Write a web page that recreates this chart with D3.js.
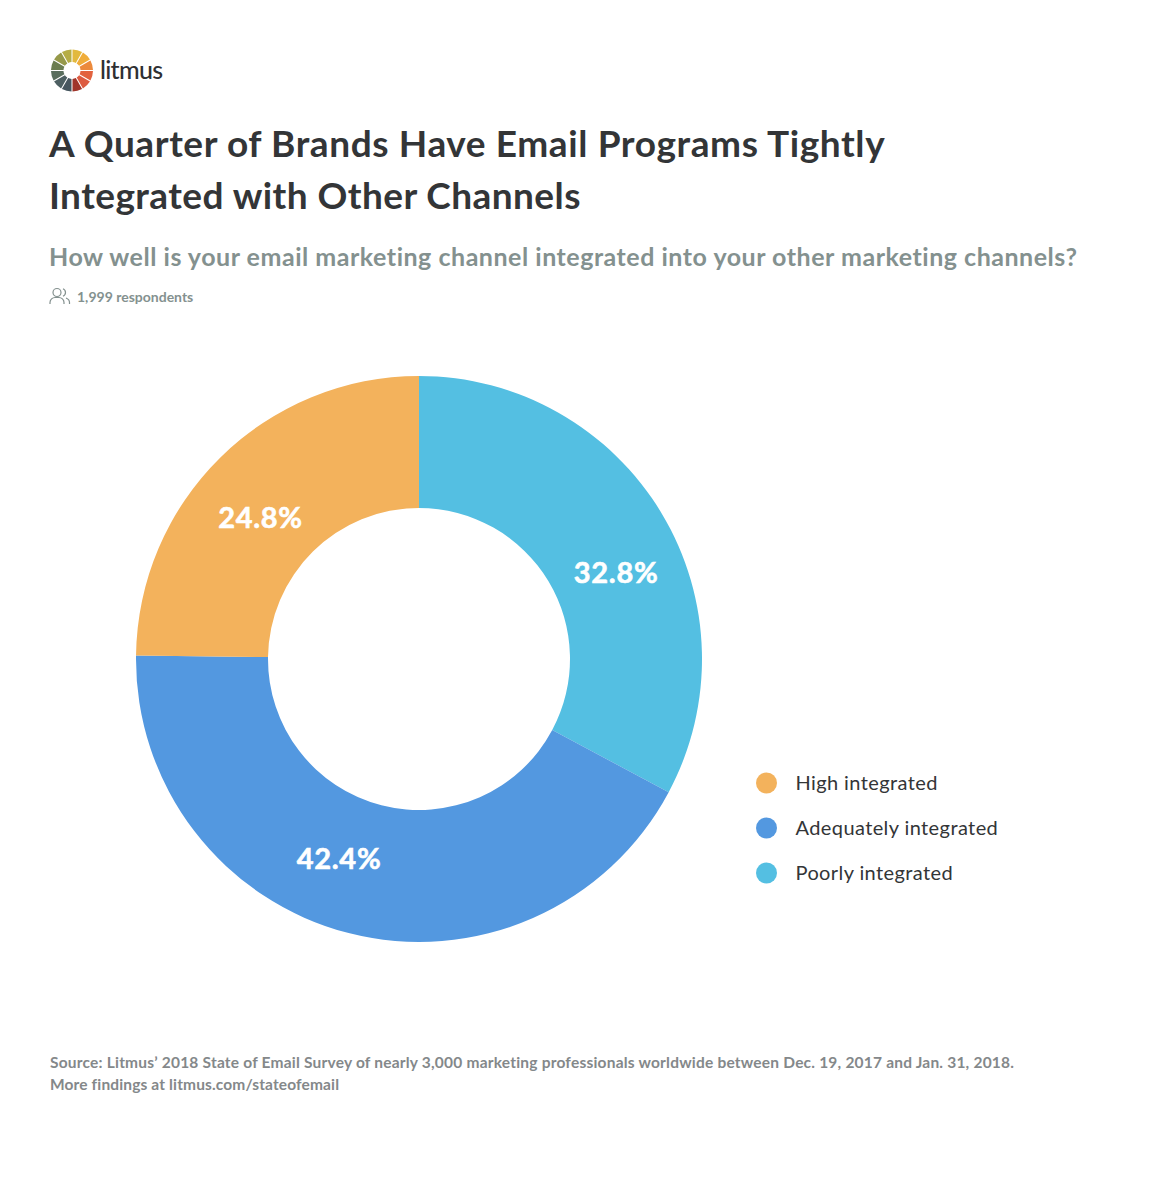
<!DOCTYPE html>
<html>
<head>
<meta charset="utf-8">
<script src="https://cdnjs.cloudflare.com/ajax/libs/d3/7.8.5/d3.min.js"></script>
<style>
  html, body { margin: 0; padding: 0; background: #fff; }
  text { font-family: Lato, "Open Sans", sans-serif; font-variant-ligatures: none; }
</style>
</head>
<body>
<svg id="chart" width="1150" height="1186"></svg>
<script>
// Chart data
var categories = ['Poorly integrated', 'Adequately integrated', 'High integrated'];
var values = [32.8, 42.4, 24.8];
var colors = ['#54bfe2', '#5398e0', '#f3b25c'];
var legendOrder = ['High integrated', 'Adequately integrated', 'Poorly integrated'];

var titleLines = ['A Quarter of Brands Have Email Programs Tightly', 'Integrated with Other Channels'];
var subtitle = 'How well is your email marketing channel integrated into your other marketing channels?';
var respondents = '1,999 respondents';
var sourceLines = [
  'Source: Litmus\u2019 2018 State of Email Survey of nearly 3,000 marketing professionals worldwide between Dec. 19, 2017 and Jan. 31, 2018.',
  'More findings at litmus.com/stateofemail'
];
var logoColors = ['#e2b93f', '#f0ad3a', '#ec8a3c', '#e2623f', '#dd5b41', '#a0352a',
                  '#46565f', '#4d5f62', '#5a6e5e', '#6b7d50', '#96994a', '#b5ad46'];

var svg = d3.select('#chart');
var color = d3.scaleOrdinal().domain(categories).range(colors);

// logo
var logo = svg.append('g').attr('transform', 'translate(72,70.5)');
var logoPie = d3.pie().value(1).sort(null);
logo.selectAll('path')
    .data(logoPie(logoColors))
  .enter().append('path')
    .attr('d', d3.arc().innerRadius(8.5).outerRadius(21).padAngle(0.045))
    .attr('fill', function(d) { return d.data; });
svg.append('text').attr('x', 100).attr('y', 79)
    .style('font-size', '25px').style('font-weight', 500).attr('fill', '#2f3033').attr('textLength', 63)
    .text('litmus');

// title block, each line tracked to its own width
var titleTracking = ['0.6px', '0.43px'];
svg.selectAll('.title')
    .data(titleLines)
  .enter().append('text')
    .attr('class', 'title')
    .attr('x', 49)
    .attr('y', function(d, i) { return 156.5 + i * 52; })
    .attr('fill', '#333537')
    .style('font-size', '37px')
    .style('font-weight', 700)
    .style('letter-spacing', function(d, i) { return titleTracking[i]; })
    .text(function(d) { return d; });

svg.append('text').attr('x', 49).attr('y', 266)
    .attr('fill', '#84918f')
    .style('font-size', '25px').style('font-weight', 700)
    .style('letter-spacing', '0.52px')
    .text(subtitle);

// people icon
var icon = svg.append('g').attr('fill', 'none').attr('stroke', '#84918f').attr('stroke-width', 1.2);
icon.append('circle').attr('cx', 57).attr('cy', 292.5).attr('r', 4);
icon.append('path').attr('d', 'M50 304v-1.5c0-3 2.5-5 5-5h4c2.5 0 5 2 5 5v1.5');
icon.append('path').attr('d', 'M63 288.8a4 4 0 0 1 0 7.4M66 298c2 .8 3.5 2.5 3.5 4.5v1.5');
svg.append('text').attr('x', 77).attr('y', 302)
    .attr('fill', '#84918f')
    .style('font-size', '14px').style('font-weight', 700)
    .text(respondents);

// donut
var pie = d3.pie().value(function(d) { return d.value; }).sort(null);
var arc = d3.arc().innerRadius(151).outerRadius(283);
var slices = pie(categories.map(function(c, i) { return { name: c, value: values[i] }; }));
var donut = svg.append('g').attr('transform', 'translate(419,659)');

donut.selectAll('path')
    .data(slices)
  .enter().append('path')
    .attr('d', arc)
    .attr('fill', function(d) { return color(d.data.name); });

// labels sit a little off the centroid in the original
var labelNudge = [[11, 25], [-26, -10], [-6, 13]];
donut.selectAll('.pct')
    .data(slices)
  .enter().append('text')
    .attr('class', 'pct')
    .attr('x', function(d, i) { return arc.centroid(d)[0] + labelNudge[i][0]; })
    .attr('y', function(d, i) { return arc.centroid(d)[1] + labelNudge[i][1]; })
    .attr('dy', '0.35em')
    .attr('text-anchor', 'middle')
    .attr('fill', '#fff')
    .attr('stroke', '#fff')
    .attr('stroke-width', 0.6)
    .style('font-size', '29px')
    .style('font-weight', 700)
    .style('letter-spacing', '0.7px')
    .text(function(d) { return d.data.value.toFixed(1) + '%'; });

// legend
var legendY = d3.scalePoint().domain(legendOrder).range([783, 873]);
var legend = svg.selectAll('.legend')
    .data(legendOrder)
  .enter().append('g')
    .attr('class', 'legend')
    .attr('transform', function(d) { return 'translate(0,' + legendY(d) + ')'; });
legend.append('circle').attr('cx', 766.5).attr('r', 10.5)
    .attr('fill', function(d) { return color(d); });
legend.append('text').attr('x', 795.5).attr('dy', '0.35em')
    .attr('fill', '#333537')
    .style('font-size', '20px')
    .style('letter-spacing', '0.4px')
    .text(function(d) { return d; });

// source note
svg.selectAll('.source')
    .data(sourceLines)
  .enter().append('text')
    .attr('class', 'source')
    .attr('x', 50)
    .attr('y', function(d, i) { return 1068 + i * 22; })
    .attr('fill', '#84888a')
    .style('font-size', '15.5px')
    .style('font-weight', 700)
    .style('letter-spacing', function(d, i) { return i ? '0.14px' : '0.21px'; })
    .text(function(d) { return d; });
</script>
</body>
</html>
